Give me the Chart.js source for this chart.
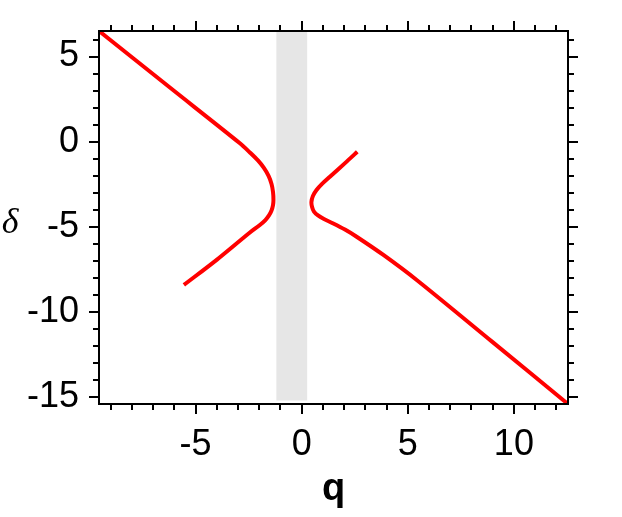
<!DOCTYPE html>
<html>
<head>
<meta charset="utf-8">
<script src="https://cdn.jsdelivr.net/npm/chart.js@4.4.1/dist/chart.umd.min.js"></script>
<style>
  html, body { margin: 0; padding: 0; background: #fff; }
  #wrap { width: 622px; height: 517px; position: relative; }
</style>
</head>
<body>
<div id="wrap"><canvas id="c"></canvas></div>
<script>
// Axis ranges and tick labels
const xRange = [-9.55, 12.55];
const yRange = [-15.4, 6.5];
const xTickLabels = [-5, 0, 5, 10];
const yTickLabels = [5, 0, -5, -10, -15];
const minorStep = 1;

// Left branch of the curve (q, delta)
const leftQ = [-9.55, -6.21, -2.91, -2.44, -2.06, -1.78, -1.56, -1.42, -1.35, -1.33, -1.35, -1.42, -1.54, -1.71, -1.97, -2.44, -3.99, -5.55];
const leftD = [6.5, 3.18, -0.09, -0.63, -1.10, -1.54, -2.01, -2.48, -2.95, -3.42, -3.72, -4.04, -4.33, -4.60, -4.89, -5.33, -6.92, -8.41];

// Right branch of the curve (q, delta)
const rightQ = [2.62, 2.12, 1.33, 0.96, 0.70, 0.53, 0.46, 0.49, 0.58, 0.77, 1.05, 1.49, 2.04, 2.59, 3.85, 5.42, 8.97, 12.55];
const rightD = [-0.59, -1.17, -2.06, -2.48, -2.84, -3.19, -3.54, -3.83, -4.10, -4.33, -4.54, -4.80, -5.16, -5.58, -6.65, -8.12, -11.74, -15.4];

// Grey band
const bandQ = [-1.2, 0.27];
const bandD = [6.5, -15.2];

const toPts = (xs, ys) => xs.map((x, i) => ({x: x, y: ys[i]}));

const framePlugin = {
  id: 'frame',
  afterDraw(chart) {
    const ctx = chart.ctx;
    const {left, right, top, bottom} = chart.chartArea;
    const xs = chart.scales.x, ys = chart.scales.y;
    ctx.save();
    ctx.strokeStyle = '#000';
    ctx.lineWidth = 2;
    ctx.strokeRect(left, top, right - left, bottom - top);
    ctx.beginPath();
    for (let v = Math.ceil(xRange[0]); v <= Math.floor(xRange[1]); v += minorStep) {
      const p = Math.round(xs.getPixelForValue(v));
      const len = (v % 5 === 0) ? 10 : 6;
      ctx.moveTo(p, bottom); ctx.lineTo(p, bottom + len);
      ctx.moveTo(p, top); ctx.lineTo(p, top - len);
    }
    for (let v = Math.ceil(yRange[0]); v <= Math.floor(yRange[1]); v += minorStep) {
      const p = Math.round(ys.getPixelForValue(v));
      const len = (v % 5 === 0) ? 10 : 6;
      ctx.moveTo(left, p); ctx.lineTo(left - len, p);
      ctx.moveTo(right, p); ctx.lineTo(right + len, p);
    }
    ctx.stroke();
    ctx.fillStyle = '#000';
    ctx.font = 'italic 36px "Liberation Serif"';
    ctx.textAlign = 'center';
    ctx.textBaseline = 'alphabetic';
    ctx.fillText('δ', 10, 233);
    ctx.restore();
  }
};

const tickFont = {family: '"Liberation Sans", Arial, sans-serif', size: 36};

new Chart(document.getElementById('c'), {
  type: 'scatter',
  data: {
    datasets: [
      {data: toPts(leftQ, leftD), showLine: true, borderColor: '#ff0000', borderWidth: 4, pointRadius: 0, tension: 0.3, fill: false},
      {data: toPts(rightQ, rightD), showLine: true, borderColor: '#ff0000', borderWidth: 4, pointRadius: 0, tension: 0.3, fill: false},
      {data: [{x: bandQ[0], y: bandD[0]}, {x: bandQ[1], y: bandD[0]}], showLine: true, borderWidth: 0, borderColor: 'rgba(0,0,0,0)', backgroundColor: '#e6e6e6', pointRadius: 0, fill: {value: bandD[1]}}
    ]
  },
  options: {
    responsive: true,
    maintainAspectRatio: false,
    animation: false,
    events: [],
    layout: {padding: {top: 31, right: 54, left: 0, bottom: 0}},
    plugins: {legend: {display: false}, tooltip: {enabled: false}},
    scales: {
      x: {
        type: 'linear', position: 'bottom', min: xRange[0], max: xRange[1],
        afterFit: s => { s.height = 113; s.paddingLeft = 0; s.paddingRight = 0; },
        afterBuildTicks: s => { s.ticks = xTickLabels.map(v => ({value: v})); },
        ticks: {font: tickFont, color: '#000', padding: 19, maxRotation: 0, autoSkip: false},
        grid: {display: false, drawTicks: false},
        border: {display: false},
        title: {display: true, text: 'q', color: '#000', font: {family: '"Liberation Sans", Arial, sans-serif', size: 38, weight: 'bold'}, padding: {top: 0, bottom: 5}}
      },
      y: {
        type: 'linear', position: 'left', min: yRange[0], max: yRange[1],
        afterFit: s => { s.width = 99; s.paddingTop = 0; s.paddingBottom = 0; },
        afterBuildTicks: s => { s.ticks = yTickLabels.map(v => ({value: v})); },
        ticks: {font: tickFont, color: '#000', padding: 20, autoSkip: false},
        grid: {display: false, drawTicks: false},
        border: {display: false}
      }
    }
  },
  plugins: [framePlugin]
});
</script>
</body>
</html>
